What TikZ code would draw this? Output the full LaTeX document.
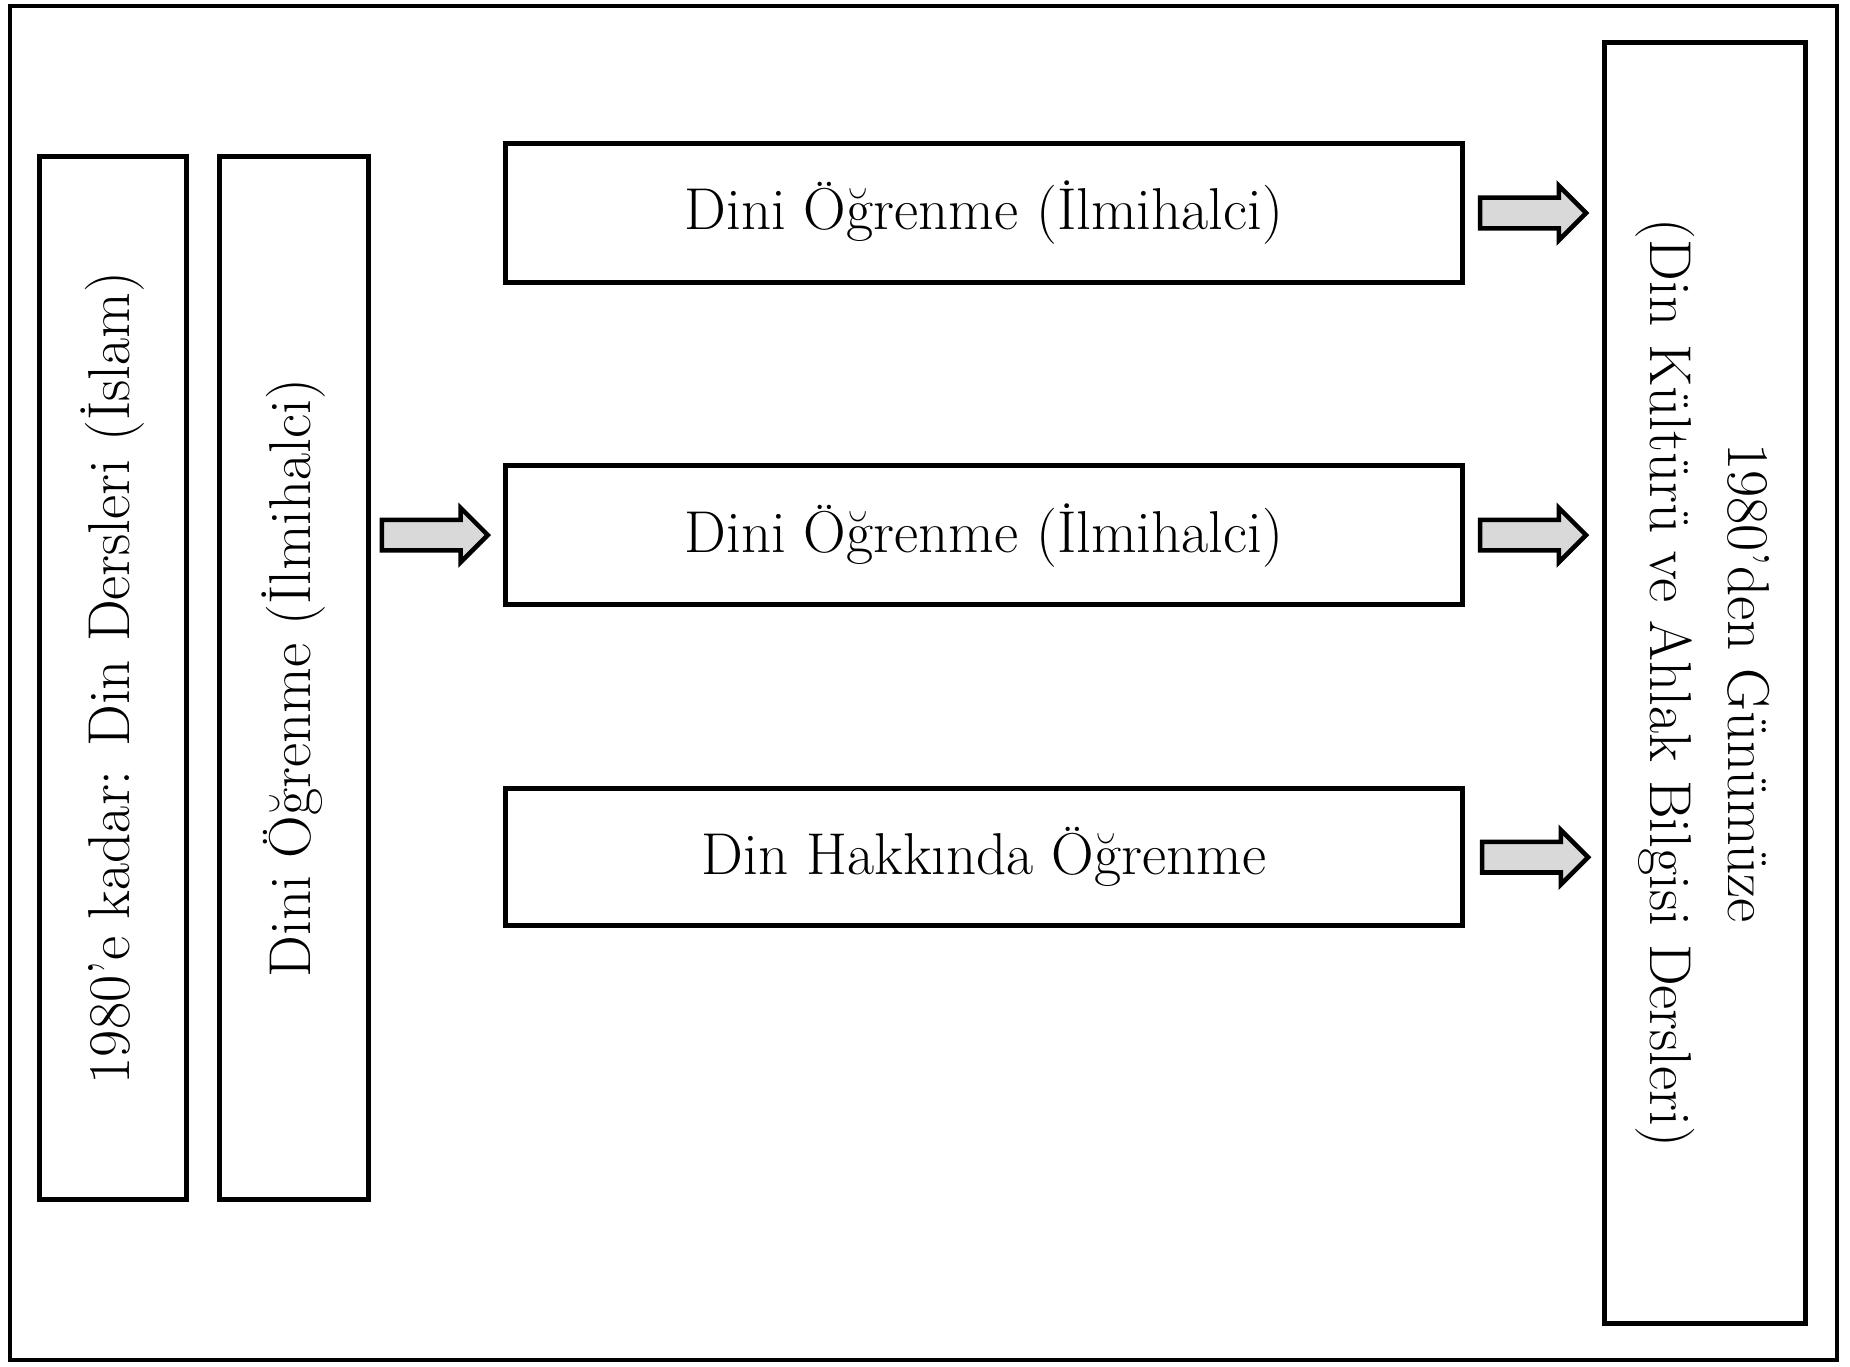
\documentclass[tikz,border=0pt]{standalone}
\usepackage{tikz}
\usetikzlibrary{positioning, calc, shapes.arrows}

\begin{document}
\begin{tikzpicture}[x=0.01cm, y=-0.01cm,
  kutu/.style={draw, line width=1.4pt, inner sep=0pt, align=center, font=\fontsize{16.8}{22}\selectfont},
  okblok/.style={single arrow, draw, line width=1.3pt, fill=gray!30, inner xsep=0pt, inner ysep=0.13cm,
    single arrow head extend=0.12cm, minimum height=1.06cm}]
\useasboundingbox (0,0) rectangle (1850,1367);
% frame
\draw[line width=1.2pt] (10,6) rectangle (1837,1360);
% left boxes
\node[kutu, minimum width=1.47cm, minimum height=10.43cm] (islam) at (113,678) {\rotatebox{90}{1980’e kadar: Din Dersleri (İslam)}};
\node[kutu, minimum width=1.48cm, minimum height=10.42cm] (dini) at (294,678) {\rotatebox{90}{Dini Öğrenme (İlmihalci)}};
% middle boxes
\node[kutu, minimum width=9.56cm, minimum height=1.39cm] (ogrenA) at (984,213) {Dini Öğrenme (İlmihalci)};
\node[kutu, minimum width=9.56cm, minimum height=1.39cm, below=1.78cm of ogrenA] (ogrenB) {Dini Öğrenme (İlmihalci)};
\node[kutu, minimum width=9.56cm, minimum height=1.37cm, below=1.79cm of ogrenB] (ogrenC) {Din Hakkında Öğrenme};
% right box
\node[kutu, minimum width=2.01cm, minimum height=12.81cm] (donem) at (1705,683) {\rotatebox{-90}{\begin{tabular}{@{}c@{}}1980’den Günümüze\\(Din Kültürü ve Ahlak Bilgisi Dersleri)\end{tabular}}};
% arrows
\node[okblok, right=0.09cm of dini.east |- ogrenB.west] (okGiris) {};
\node[okblok, right=0.13cm of ogrenA] (okA) {};
\node[okblok, right=0.13cm of ogrenB] (okB) {};
\node[okblok, right=0.15cm of ogrenC] (okC) {};
\end{tikzpicture}
\end{document}
